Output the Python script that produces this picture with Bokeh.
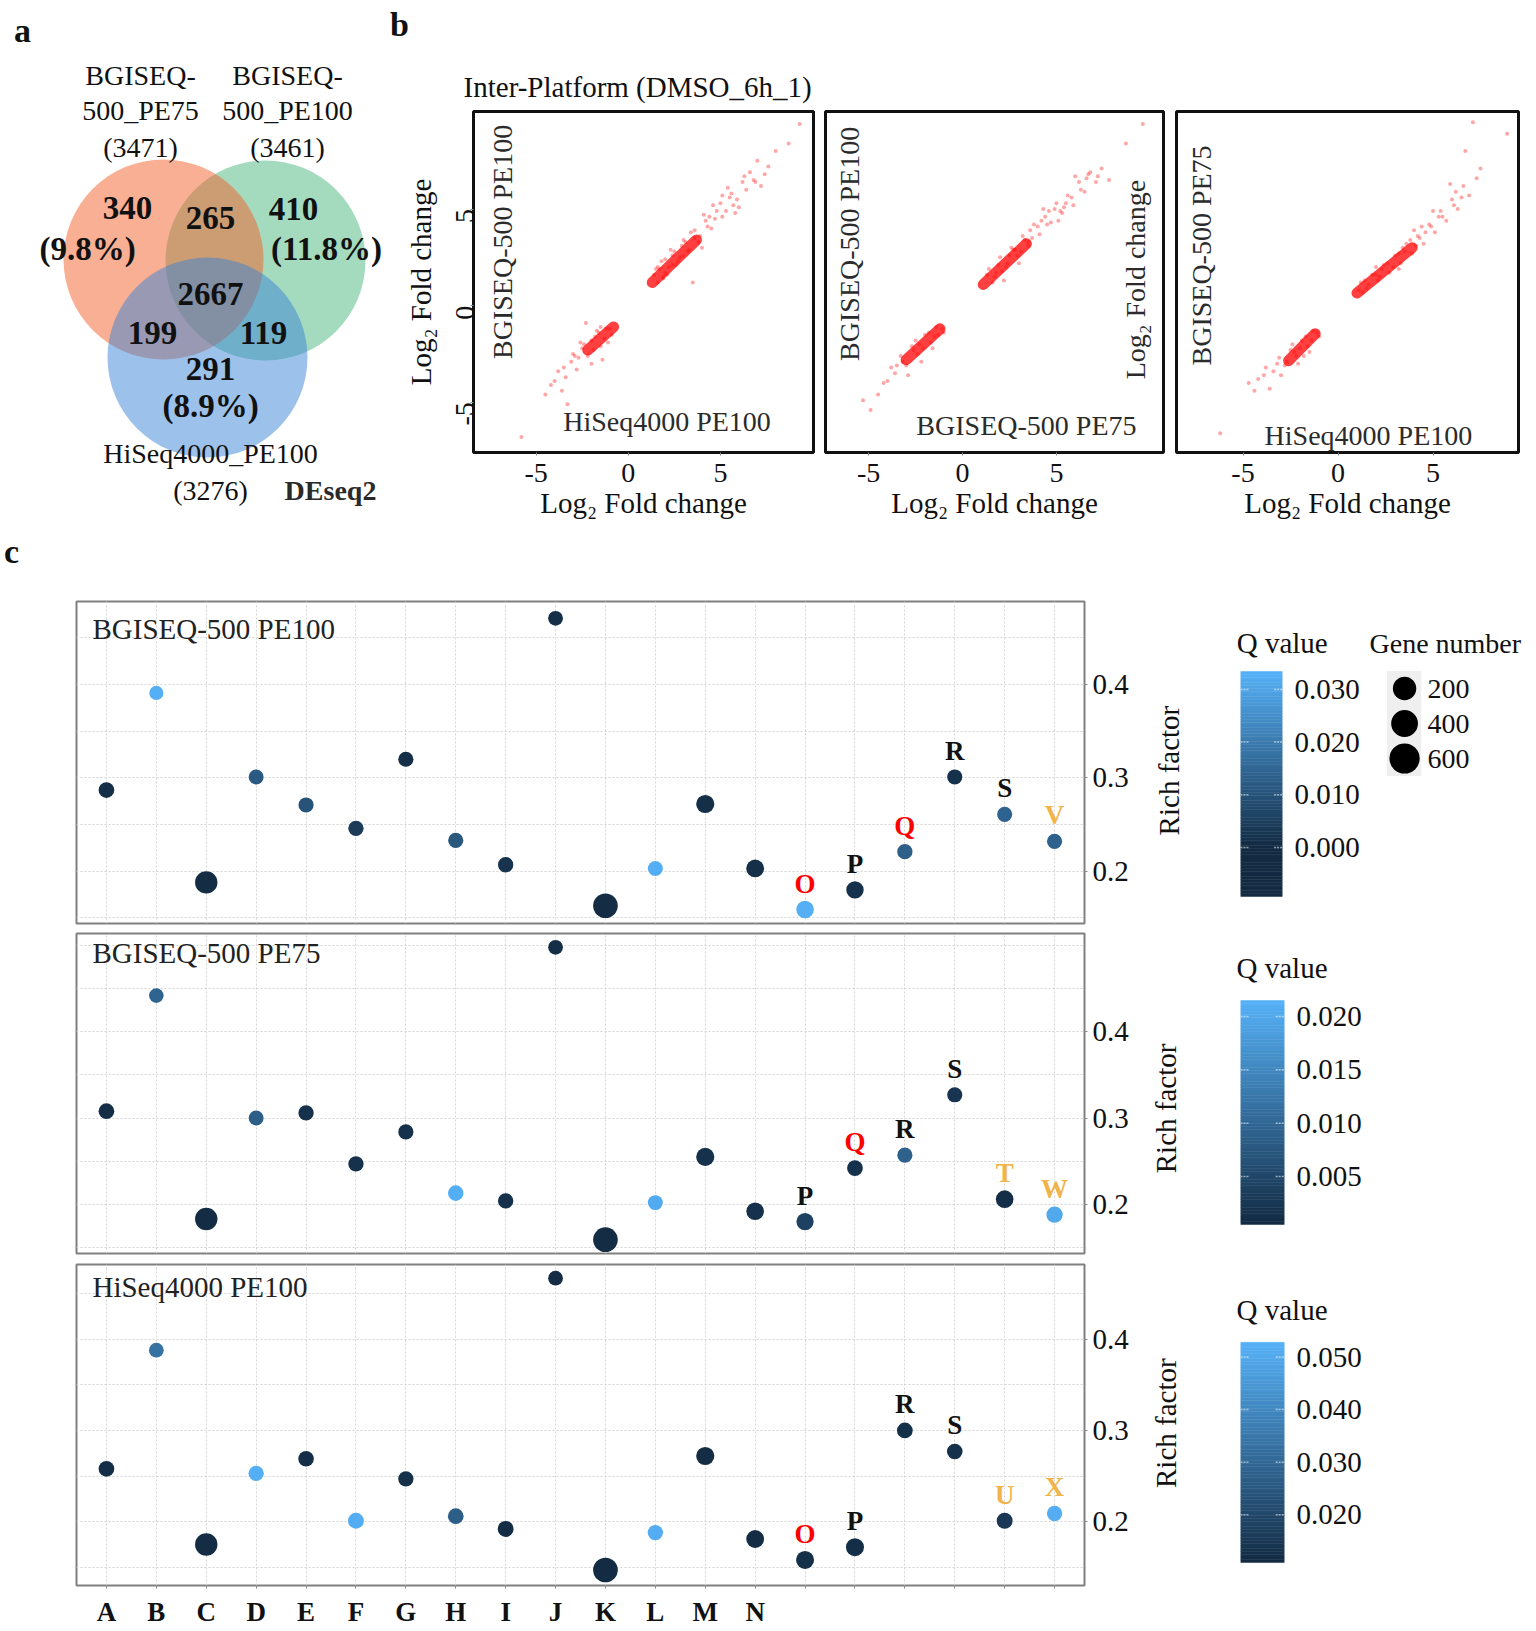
import math
from bokeh.plotting import figure
from bokeh.layouts import column, row
from bokeh.models import (Range1d, FixedTicker, LinearColorMapper, NumeralTickFormatter,
                          ColumnDataSource)
from bokeh.core.properties import value
from bokeh.transform import transform
from bokeh.embed import file_html
from bokeh.resources import INLINE

SERIF = "Liberation Serif"

# ======================= DATA =======================
# ---- a: Venn (DEseq2 DEGs) ----
venn_sets = ["BGISEQ-500_PE75", "BGISEQ-500_PE100", "HiSeq4000_PE100"]
venn_totals = [3471, 3461, 3276]
venn_unique = [340, 410, 291]
venn_unique_pct = ["9.8%", "11.8%", "8.9%"]
venn_pairs = [265, 199, 119]          # PE75&PE100, PE75&HiSeq, PE100&HiSeq
venn_all = [2667]
venn_method = "DEseq2"

# ---- b: log2 fold change scatter ----
lfc_ticks = [-5, 0, 5]
up_x1 = [1.5, 1.8, 2.1, 2.4, 2.0, 2.8, 3.1, 3.3, 2.6, 3.6, 3.9, 4.2, 4.5, 4.8, 4.1, 5.0, 5.3, 5.6,
         5.9, 6.2, 4.6, 5.4, 6.6, 7.0, 7.4, 6.0, 7.2, 8.0, 8.7, 9.3, 3.5, 4.0, 2.3, 5.8, 4.4, 6.4,
         3.0, 5.1, 6.9, 1.9, 1.4, 1.6, 1.7, 1.9, 2.2, 2.5, 2.7, 2.9, 3.2, 3.4, 3.8, 4.3, 4.7, 5.1,
         5.5, 5.7, 6.3, 6.8, 7.6, 1.6, 2.0, 2.4, 3.0, 3.6]
up_y1 = [1.9, 2.3, 1.6, 2.6, 2.4, 2.5, 3.3, 2.9, 2.1, 3.9, 3.6, 4.4, 4.0, 4.9, 4.7, 5.3, 4.9, 5.8,
         5.5, 6.4, 5.2, 6.1, 6.9, 7.5, 6.8, 5.1, 6.2, 8.0, 8.4, 9.4, 1.2, 3.0, 2.9, 4.8, 4.6, 6.0,
         2.6, 5.7, 6.4, 1.5, 1.6, 1.2, 1.9, 1.4, 2.0, 2.8, 2.3, 3.1, 2.8, 3.8, 3.3, 4.1, 4.5, 4.6,
         5.6, 5.2, 6.7, 6.5, 7.2, 2.0, 1.7, 2.1, 3.4, 3.5]
lo_x1 = [-0.9, -1.2, -1.5, -1.8, -2.2, -2.5, -2.8, -3.1, -3.4, -3.8, -4.0, -4.5, -3.3, -2.0, -1.4,
         -2.6, -5.8, -3.6, -2.3, -1.7, -2.9, -1.0, -1.3, -1.6, -1.9, -2.4, -2.7, -3.0, -3.5, -4.2,
         -2.0, -1.1, -1.5]
lo_y1 = [-1.5, -1.2, -2.1, -1.6, -2.6, -2.2, -3.3, -2.9, -3.7, -3.4, -3.9, -4.6, -5.1, -3.0, -2.8,
         -1.9, -6.8, -4.4, -0.9, -1.3, -2.6, -1.2, -1.7, -1.4, -2.3, -2.0, -2.7, -2.5, -3.2, -4.1,
         -1.8, -1.9, -1.1]
core_up_x1, core_up_y1 = [1.3, 3.7], [1.2, 3.4]
core_lo_x1, core_lo_y1 = [-0.8, -2.2], [-1.1, -2.3]

up_x2 = [1.4, 1.7, 2.0, 2.3, 2.6, 2.9, 3.2, 3.5, 3.8, 4.1, 4.4, 4.7, 5.0, 5.3, 5.6, 5.9, 6.2, 6.5,
         6.8, 7.1, 7.4, 6.0, 5.1, 4.3, 3.0, 2.2, 8.7, 9.6, 7.8, 6.6, 3.6, 4.6, 5.5, 2.7, 1.3, 1.6,
         1.9, 2.1, 2.4, 2.8, 3.1, 3.3, 3.7, 4.0, 4.5, 4.9, 5.4, 5.8, 6.3, 6.7, 7.2, 1.8, 2.5, 3.5,
         4.2, 5.2]
up_y2 = [1.9, 1.5, 2.5, 2.0, 3.0, 2.6, 3.6, 3.1, 4.2, 3.7, 4.6, 4.3, 5.3, 4.8, 5.7, 5.2, 6.4, 5.9,
         6.9, 6.4, 7.1, 6.7, 4.4, 5.0, 2.2, 1.3, 8.4, 9.4, 6.5, 6.6, 3.9, 4.9, 5.3, 2.9, 1.6, 1.2,
         2.1, 1.8, 2.2, 2.9, 2.8, 3.4, 3.5, 4.1, 4.2, 5.0, 5.1, 5.6, 6.0, 6.8, 6.7, 1.7, 2.6, 3.3,
         4.4, 4.9]
lo_x2 = [-1.0, -1.4, -1.7, -2.0, -2.4, -2.7, -3.0, -3.3, -3.6, -4.0, -4.5, -4.9, -2.2, -3.8, -1.6,
         -2.9, -5.3, -2.5, -1.1, -1.5, -1.8, -2.1, -2.6, -3.2, -3.5, -4.2, -1.3, -2.3]
lo_y2 = [-1.4, -1.1, -1.9, -1.5, -2.5, -2.1, -3.1, -2.6, -3.5, -3.9, -4.6, -5.4, -2.9, -3.2, -2.2,
         -3.6, -4.9, -1.8, -1.2, -1.6, -1.4, -2.2, -2.3, -2.9, -3.1, -4.0, -1.5, -2.0]
core_up_x2, core_up_y2 = [1.1, 3.4], [1.1, 3.2]
core_lo_x2, core_lo_y2 = [-1.2, -3.0], [-1.2, -2.8]

up_x3 = [1.2, 1.5, 1.8, 2.1, 2.4, 2.7, 3.0, 3.3, 3.6, 3.9, 4.2, 4.5, 4.8, 5.1, 5.4, 5.7, 6.0, 6.3,
         6.6, 6.9, 7.1, 8.9, 5.0, 4.0, 3.2, 2.0, 5.9, 6.7, 7.5, 4.4, 5.3, 6.2, 1.1, 1.4, 1.6, 2.0,
         2.3, 2.6, 2.9, 3.2, 3.5, 3.8, 4.1, 4.6, 4.9, 5.5, 6.1, 6.5, 7.3, 1.3, 2.2, 3.4, 4.3]
up_y3 = [1.2, 0.9, 1.6, 1.3, 2.1, 1.7, 2.6, 2.2, 3.2, 2.7, 3.6, 3.2, 4.2, 3.8, 4.9, 4.4, 5.5, 5.0,
         6.2, 5.7, 9.5, 8.9, 4.9, 3.9, 1.9, 2.0, 6.3, 8.0, 7.1, 4.1, 4.6, 5.9, 0.8, 1.3, 1.1, 1.6,
         1.9, 2.2, 2.0, 2.7, 2.8, 3.4, 3.1, 3.8, 4.1, 4.6, 5.2, 5.6, 6.6, 0.7, 1.5, 3.0, 3.5]
lo_x3 = [-1.0, -1.3, -1.6, -1.9, -2.2, -2.5, -2.8, -3.1, -3.4, -3.8, -4.2, -4.7, -6.2, -2.1, -3.0,
         -3.6, -1.5, -2.4, -1.1, -1.4, -1.7, -2.0, -2.3, -2.7, -3.2, -3.9, -4.4, -1.8]
lo_y3 = [-1.6, -1.3, -2.1, -1.8, -2.6, -2.3, -3.1, -2.7, -3.4, -3.2, -3.8, -4.0, -6.6, -3.0, -3.6,
         -4.3, -2.4, -2.0, -1.4, -1.8, -1.6, -2.2, -2.4, -2.9, -3.0, -3.6, -4.4, -2.6]
core_up_x3, core_up_y3 = [1.0, 3.9], [0.65, 3.0]
core_lo_x3, core_lo_y3 = [-1.2, -2.6], [-1.45, -2.85]

# ---- c: enrichment dot plots ----
dot_cats = list(range(1, 21))
x_tick_letters = list("ABCDEFGHIJKLMN") + [""] * 6
rich_ticks = [0.2, 0.3, 0.4]

rich1 = [0.287, 0.391, 0.188, 0.301, 0.271, 0.246, 0.320, 0.233, 0.207, 0.471,
         0.163, 0.203, 0.272, 0.203, 0.159, 0.180, 0.221, 0.301, 0.261, 0.232]
q1 = [0.0010, 0.0330, 0.0005, 0.0115, 0.0100, 0.0040, 0.0010, 0.0110, 0.0020, 0.0010,
      0.0005, 0.0325, 0.0010, 0.0010, 0.0330, 0.0015, 0.0130, 0.0015, 0.0140, 0.0135]
genes1 = [170, 90, 520, 130, 140, 150, 140, 140, 150, 120,
          640, 130, 300, 280, 270, 260, 150, 140, 140, 140]
terms1 = ["O", "P", "Q", "R", "S", "V"]

rich2 = [0.308, 0.442, 0.183, 0.300, 0.306, 0.247, 0.284, 0.213, 0.204, 0.498,
         0.159, 0.202, 0.255, 0.192, 0.180, 0.242, 0.257, 0.327, 0.206, 0.188]
q2 = [0.0010, 0.0095, 0.0008, 0.0085, 0.0015, 0.0015, 0.0015, 0.0210, 0.0015, 0.0010,
      0.0008, 0.0205, 0.0015, 0.0015, 0.0040, 0.0015, 0.0090, 0.0020, 0.0010, 0.0200]
genes2 = [170, 110, 520, 130, 150, 150, 140, 160, 150, 120,
          640, 130, 300, 270, 250, 170, 140, 140, 270, 200]
terms2 = ["P", "Q", "R", "S", "T", "W"]

rich3 = [0.258, 0.388, 0.175, 0.253, 0.269, 0.201, 0.247, 0.206, 0.192, 0.467,
         0.147, 0.188, 0.272, 0.181, 0.158, 0.172, 0.300, 0.277, 0.201, 0.209]
q3 = [0.0120, 0.0330, 0.0115, 0.0520, 0.0120, 0.0515, 0.0125, 0.0270, 0.0115, 0.0115,
      0.0110, 0.0515, 0.0115, 0.0115, 0.0125, 0.0120, 0.0125, 0.0130, 0.0150, 0.0515]
genes3 = [170, 120, 520, 150, 160, 180, 150, 170, 180, 120,
          640, 150, 300, 280, 290, 290, 170, 160, 180, 150]
terms3 = ["O", "P", "R", "S", "U", "X"]

qticks1 = [0.000, 0.010, 0.020, 0.030]
qticks2 = [0.005, 0.010, 0.015, 0.020]
qticks3 = [0.020, 0.030, 0.040, 0.050]
qbar1 = (-0.0093, 0.0334)
qbar2 = (0.0005, 0.0215)
qbar3 = (0.0109, 0.0528)
gene_legend = [200, 400, 600]

# ======================= STYLE HELPERS =======================
LOW_C, HIGH_C = "#132B43", "#56B1F7"


def _interp(c0, c1, n):
    a = [int(c0[i:i + 2], 16) for i in (1, 3, 5)]
    b = [int(c1[i:i + 2], 16) for i in (1, 3, 5)]
    out = []
    for k in range(n):
        t = k / (n - 1)
        out.append("#%02x%02x%02x" % tuple(round(a[j] + (b[j] - a[j]) * t) for j in range(3)))
    return out


PALETTE = _interp(LOW_C, HIGH_C, 256)
TERM_COLOR = {"O": "#ff0000", "Q": "#ff0000", "P": "#111111", "R": "#111111", "S": "#111111",
              "T": "#f0b44a", "U": "#f0b44a", "V": "#f0b44a", "W": "#f0b44a", "X": "#f0b44a"}


def dot_size(n):
    return 12.5 + 0.019 * n


def legend_size(n):
    return 20 + 0.017 * n


def style_axis(ax, fs="28px"):
    ax.axis_line_color = None
    ax.major_tick_line_color = "#8a8a8a"
    ax.minor_tick_line_color = None
    ax.major_tick_in = 0
    ax.major_tick_out = 3
    ax.major_label_text_font = SERIF
    ax.major_label_text_font_size = fs
    ax.major_label_text_color = "#111111"
    ax.axis_label_text_font = SERIF
    ax.axis_label_text_font_style = "normal"
    ax.axis_label_text_font_size = "29px"
    ax.axis_label_text_color = "#111111"


def bare(p):
    p.xgrid.visible = False
    p.ygrid.visible = False
    p.background_fill_color = None
    p.border_fill_color = None


def otext(p, xs, ys, texts, size="29px", style="normal", color="#111111", align="center",
          baseline="middle", angle=0.0):
    p.text(x=xs, y=ys, text=texts, angle=angle, text_font=value(SERIF), text_font_size=size,
           text_font_style=style, text_color=color, text_align=align, text_baseline=baseline,
           level="overlay")


TOP_H = 530
TOP_B, BOT_B = 111, 78   # shared borders of the top row (frame 111..452)

# ======================= a: Venn =======================
venn = figure(width=386, height=TOP_H, x_range=Range1d(-2.12, 1.74), y_range=Range1d(-1.60, 1.81),
              min_border_left=0, min_border_right=0, min_border_top=TOP_B,
              min_border_bottom=BOT_B, x_axis_location=None, y_axis_location=None,
              output_backend="svg", toolbar_location=None, outline_line_color=None)
bare(venn)
# draw order: green (PE100), orange (PE75), blue (HiSeq)
venn.circle(x=[0.53, -0.49, -0.05], y=[0.32, 0.33, -0.65], radius=1.0,
            fill_color=["#49b77d", "#f35f27", "#3983d5"], fill_alpha=0.5, line_color=None,
            level="overlay")

set_lines = []
for s, tot in zip(venn_sets[:2], venn_totals[:2]):
    head, tail = s.split("-", 1)
    set_lines.append([head + "-", tail, "(%d)" % tot])
otext(venn, [-0.72] * 3 + [0.75] * 3 + [-0.02, -0.02],
      [2.17, 1.82, 1.45] * 2 + [-1.61, -1.98],
      set_lines[0] + set_lines[1] + [venn_sets[2], "(%d)" % venn_totals[2]], size="28px")
otext(venn, [-0.85, 0.81, -0.02, -0.02, -0.60, 0.51, -0.02],
      [0.85, 0.84, -0.76, 0.75, -0.40, -0.40, -0.01],
      [str(v) for v in venn_unique + venn_pairs + venn_all], size="33px", style="bold")
otext(venn, [-1.25, 1.14, -0.02], [0.44, 0.44, -1.13],
      ["(%s)" % v for v in venn_unique_pct], size="33px", style="bold")
otext(venn, [1.18], [-1.98], [venn_method], size="28px", style="bold", color="#2a2a2a")
otext(venn, [-1.90], [2.62], ["a"], size="34px", style="bold")


# ======================= b: scatter panels =======================
def lfc_fig(width, xr, bl, br, ux, uy, lx, ly, cux, cuy, clx, cly, show_y):
    p = figure(width=width, height=TOP_H, x_range=Range1d(*xr), y_range=Range1d(-7.6, 10.05),
               min_border_left=bl, min_border_right=br, min_border_top=TOP_B,
               min_border_bottom=BOT_B, output_backend="svg", toolbar_location=None)
    bare(p)
    p.outline_line_color = "#111111"
    p.outline_line_width = 3
    p.scatter(ux + lx, uy + ly, size=4, fill_color="#ff2020", line_color=None, fill_alpha=0.4)
    for cx, cy in ((cux, cuy), (clx, cly)):
        p.line(cx, cy, line_color="#ff0000", line_width=11, line_alpha=0.75, line_cap="round")
    p.xaxis.ticker = FixedTicker(ticks=lfc_ticks)
    p.xaxis.major_label_overrides = {t: str(t) for t in lfc_ticks}
    p.xaxis.axis_label = "Log₂ Fold change"
    style_axis(p.xaxis[0])
    p.xaxis.major_label_standoff = 8
    p.xaxis.axis_label_standoff = 2
    if show_y:
        p.yaxis.ticker = FixedTicker(ticks=lfc_ticks)
        p.yaxis.major_label_overrides = {t: str(t) for t in lfc_ticks}
        p.yaxis.axis_label = "Log₂ Fold change"
        style_axis(p.yaxis[0])
        p.yaxis.major_label_orientation = math.pi / 2
        p.yaxis.axis_label_standoff = 8
    else:
        p.yaxis.visible = False
    return p


def inner(p, xs, ys, texts, angles):
    p.text(x=xs, y=ys, text=texts, angle=angles, text_font=value(SERIF), text_font_size="28px",
           text_color="#2b2b2b", text_align="center", text_baseline="middle")


s1 = lfc_fig(433, (-8.4, 10.05), 87, 6, up_x1, up_y1, lo_x1, lo_y1,
             core_up_x1, core_up_y1, core_lo_x1, core_lo_y1, True)
inner(s1, [-6.8, 2.1], [3.3, -6.0], ["BGISEQ-500 PE100", "HiSeq4000 PE100"], [math.pi / 2, 0])
otext(s1, [-8.94], [11.34], ["Inter-Platform (DMSO_6h_1)"], align="left")
otext(s1, [-12.42], [14.55], ["b"], size="34px", style="bold")

s2 = lfc_fig(351, (-7.3, 10.7), 6, 7, up_x2, up_y2, lo_x2, lo_y2,
             core_up_x2, core_up_y2, core_lo_x2, core_lo_y2, False)
inner(s2, [-6.0, 3.4, 9.2], [3.2, -6.2, 1.35],
      ["BGISEQ-500 PE100", "BGISEQ-500 PE75", "Log₂ Fold change"], [math.pi / 2, 0, math.pi / 2])

s3 = lfc_fig(366, (-8.5, 9.5), 6, 18, up_x3, up_y3, lo_x3, lo_y3,
             core_up_x3, core_up_y3, core_lo_x3, core_lo_y3, False)
inner(s3, [-7.2, 1.6], [2.6, -6.7], ["BGISEQ-500 PE75", "HiSeq4000 PE100"], [math.pi / 2, 0])


# ======================= c: dot plots =======================
def dot_panel(title, rich, q, genes, terms, mapper, yr, height, btop, bbot, show_x, title_off):
    p = figure(width=1137, height=height, x_range=Range1d(0.4, 20.6), y_range=Range1d(*yr),
               y_axis_location="right", min_border_left=76, min_border_right=53,
               min_border_top=btop, min_border_bottom=bbot,
               output_backend="svg", toolbar_location=None)
    p.background_fill_color = "white"
    p.border_fill_color = None
    p.outline_line_color = "#808080"
    p.outline_line_width = 2
    p.xgrid.ticker = FixedTicker(ticks=dot_cats)
    p.ygrid.ticker = FixedTicker(ticks=[0.15, 0.2, 0.25, 0.3, 0.35, 0.4, 0.45, 0.5])
    for g in (p.xgrid, p.ygrid):
        g.grid_line_color = "#d4d4d4"
        g.grid_line_dash = "2 2"
        g.grid_line_width = 1
    src = ColumnDataSource(dict(x=dot_cats, y=rich, q=q, d=[dot_size(n) for n in genes]))
    p.scatter("x", "y", size="d", source=src, fill_color=transform("q", mapper), line_color=None)
    p.text(x=dot_cats[14:], y=rich[14:], text=terms, text_color=[TERM_COLOR[t] for t in terms],
           y_offset=-26, text_font=value(SERIF), text_font_size="27px", text_font_style="bold",
           text_align="center", text_baseline="middle")
    p.text(x=[0.72], y=[yr[1] - title_off], text=[title], text_font=value(SERIF),
           text_font_size="29px", text_color="#222222", text_align="left", text_baseline="top")
    p.yaxis.ticker = FixedTicker(ticks=rich_ticks)
    style_axis(p.yaxis[0], "29px")
    p.yaxis.major_label_standoff = 5
    if show_x:
        p.xaxis.ticker = FixedTicker(ticks=dot_cats)
        p.xaxis.major_label_overrides = {c: lab for c, lab in zip(dot_cats, x_tick_letters)}
        style_axis(p.xaxis[0], "27px")
        p.xaxis.major_label_text_font_style = "bold"
        p.xaxis.major_label_standoff = 8
    else:
        p.xaxis.visible = False
    return p


def cbar_fig(width, height, btop, bbot, yr, bar, mapper, ticks, q_y, rich_y):
    p = figure(width=width, height=height, x_range=Range1d(0, 1), y_range=Range1d(*yr),
               y_axis_location="right", x_axis_location=None,
               min_border_left=103, min_border_right=width - 103 - 44,
               min_border_top=btop, min_border_bottom=bbot,
               output_backend="svg", toolbar_location=None, outline_line_color=None)
    bare(p)
    n = 80
    lo, hi = bar
    edges = [lo + (hi - lo) * k / n for k in range(n + 1)]
    src = ColumnDataSource(dict(b=edges[:-1], t=edges[1:],
                                m=[(edges[k] + edges[k + 1]) / 2 for k in range(n)]))
    p.quad(left=0, right=1, bottom="b", top="t", source=src,
           fill_color=transform("m", mapper), line_color=transform("m", mapper), line_width=0.5)
    p.segment(x0=[0.0] * len(ticks) + [0.8] * len(ticks), x1=[0.2] * len(ticks) + [1.0] * len(ticks),
              y0=ticks + ticks, y1=ticks + ticks, line_color="white", line_alpha=0.55,
              line_width=1.5, line_dash="2 1")
    p.yaxis.ticker = FixedTicker(ticks=ticks)
    p.yaxis.formatter = NumeralTickFormatter(format="0.000")
    style_axis(p.yaxis[0], "29px")
    p.yaxis.major_tick_out = 0
    p.yaxis.major_label_standoff = 12
    otext(p, [-0.09], [q_y], ["Q value"], align="left")
    otext(p, [-1.70], [rich_y], ["Rich factor"], angle=math.pi / 2)
    return p


m1 = LinearColorMapper(palette=PALETTE, low=0.0, high=qbar1[1])
m2 = LinearColorMapper(palette=PALETTE, low=qbar2[0], high=qbar2[1])
m3 = LinearColorMapper(palette=PALETTE, low=qbar3[0], high=qbar3[1])

# row heights: c1 530..928, c2 928..1258, c3 1258..1629
C1_H, C1_TOP = 398, 71
c1 = dot_panel("BGISEQ-500 PE100", rich1, q1, genes1, terms1, m1, (0.144, 0.489), C1_H, C1_TOP, 5,
               False, 0.012)
otext(c1, [-0.90], [0.543], ["c"], size="34px", style="bold")
c2 = dot_panel("BGISEQ-500 PE75", rich2, q2, genes2, terms2, m2, (0.143, 0.514), 330, 5, 5,
               False, 0.004)
c3 = dot_panel("HiSeq4000 PE100", rich3, q3, genes3, terms3, m3, (0.130, 0.482), 371, 6, 43,
               True, 0.007)

cb1 = cbar_fig(225, C1_H, C1_TOP, 5, (-0.01443, 0.04669), qbar1, m1, qticks1, 0.03872, 0.0146)
cb2 = cbar_fig(399, 330, 5, 5, (-0.00222, 0.02778), qbar2, m2, qticks2, 0.0245, 0.01138)
cb3 = cbar_fig(399, 371, 6, 43, (0.00653, 0.06761), qbar3, m3, qticks3, 0.05888, 0.03742)

# gene-number legend (frame 601..923, rows 35 px apart)
leg = figure(width=174, height=C1_H, x_range=Range1d(0, 1), y_range=Range1d(6.714, -2.486),
             min_border_left=7, min_border_right=0, min_border_top=C1_TOP, min_border_bottom=5,
             x_axis_location=None, y_axis_location=None, output_backend="svg",
             toolbar_location=None, outline_line_color=None)
bare(leg)
rows_idx = list(range(len(gene_legend)))
leg.quad(left=[0.105], right=[0.31], bottom=[-0.5], top=[len(gene_legend) - 0.5],
         fill_color="#efefef", line_color=None)
leg.scatter(x=[0.21] * len(gene_legend), y=rows_idx,
            size=[legend_size(g) for g in gene_legend], fill_color="black", line_color=None)
otext(leg, [0.347] * len(gene_legend), rows_idx, [str(g) for g in gene_legend], size="28px",
      align="left")
otext(leg, [0.0], [-1.286], ["Gene number"], size="28px", align="left")

layout = column(row(venn, s1, s2, s3),
                row(c1, cb1, leg),
                row(c2, cb2),
                row(c3, cb3))

open("out.html", "w").write(file_html(layout, INLINE))
